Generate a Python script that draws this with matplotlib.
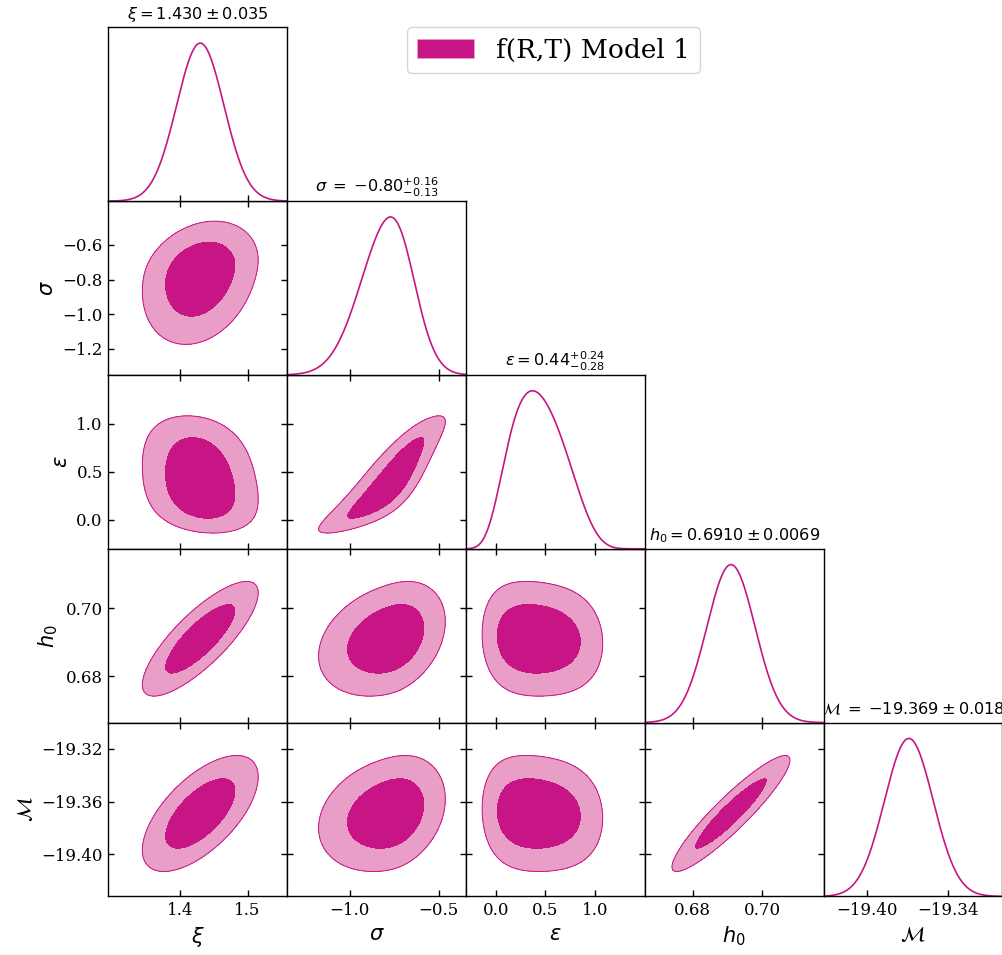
import numpy as np
import matplotlib
matplotlib.use("Agg")
import matplotlib.pyplot as plt
from matplotlib.patches import Patch
from matplotlib.ticker import FuncFormatter, FixedLocator

plt.rcParams["font.family"] = "serif"

MINUS = "\u2212"

# Parameters of the f(R,T) Model 1 posterior
labels = [r"$\xi$", r"$\sigma$", r"$\varepsilon$", r"$h_0$", r"$\mathcal{M}$"]
titles = [
    r"$\xi = 1.430 \pm 0.035$",
    r"$\sigma \;=\; {-}0.80^{+0.16}_{-0.13}$",
    r"$\varepsilon = 0.44^{+0.24}_{-0.28}$",
    r"$h_0 = 0.6910 \pm 0.0069$",
    r"$\mathcal{M} \;=\; {-}19.369 \pm 0.018$",
]
# peak position, lower / upper width and tail steepening of each marginal
modes = [1.430, -0.770, 0.370, 0.691, -19.369]
width_lo = [0.035, 0.165, 0.270, 0.0069, 0.018]
width_hi = [0.035, 0.125, 0.385, 0.0069, 0.018]
tail_cubic = [0.0, 0.0, 0.094, 0.0, 0.0]
# pairwise correlations
corr = [
    [1.00, 0.25, -0.22, 0.80, 0.63],
    [0.25, 1.00, 0.88, 0.30, 0.25],
    [-0.22, 0.88, 1.00, -0.08, -0.08],
    [0.80, 0.30, -0.08, 1.00, 0.92],
    [0.63, 0.25, -0.08, 0.92, 1.00],
]
limits = [(1.294, 1.5585), (-1.350, -0.347), (-0.303, 1.505),
          (0.6663, 0.7175), (-19.432, -19.300)]
xticks = [[1.4, 1.5], [-1.0, -0.5], [0.0, 0.5, 1.0], [0.68, 0.70], [-19.40, -19.34]]
yticks = [[], [-1.2, -1.0, -0.8, -0.6], [0.0, 0.5, 1.0], [0.68, 0.70],
          [-19.40, -19.36, -19.32]]
decimals = [1, 1, 1, 2, 2]
legend_label = "f(R,T) Model 1"

dark = "#C71585"
light = "#E99EC8"
levels_chi2 = [2.279, 5.991]   # 68% and 95% regions

n = len(labels)


def gaussianized(x, k):
    """Map a parameter value to a standard-normal-like coordinate,
    with a smooth change of width across the peak."""
    d = x - modes[k]
    s_mid = 0.5 * (width_lo[k] + width_hi[k])
    s_half = 0.5 * (width_hi[k] - width_lo[k])
    s = s_mid + s_half * np.tanh(d / s_mid)
    u = d / s
    return u + tail_cubic[k] * u ** 3


def formatter(dec):
    return FuncFormatter(lambda v, _: f"{v:.{dec}f}".replace("-", MINUS))


fig = plt.figure(figsize=(10.03, 9.55), dpi=100)
gs = fig.add_gridspec(n, n, left=0.108, right=0.9993, top=0.9714,
                      bottom=0.0613, hspace=0, wspace=0)

tick_kw = dict(direction="in", length=4, width=1.0, labelsize=12, pad=4)

for i in range(n):
    for j in range(i + 1):
        ax = fig.add_subplot(gs[i, j])
        for sp in ax.spines.values():
            sp.set_linewidth(1.0)
        ax.set_xlim(*limits[j])
        ax.xaxis.set_major_locator(FixedLocator(xticks[j]))
        ax.xaxis.set_major_formatter(formatter(decimals[j]))
        if i == j:
            ax.set_zorder(n - i)
            x = np.linspace(*limits[j], 600)
            z = gaussianized(x, j)
            ax.plot(x, np.exp(-0.5 * z ** 2), color=dark, lw=1.2)
            ax.set_ylim(0, 1.1)
            ax.set_yticks([])
            ax.tick_params(axis="x", bottom=True, top=False, **tick_kw)
            ax.set_title(titles[j], fontsize=11.6, pad=6)
        else:
            ax.set_ylim(*limits[i])
            ax.yaxis.set_major_locator(FixedLocator(yticks[i]))
            ax.yaxis.set_major_formatter(formatter(decimals[i]))
            xs = np.linspace(*limits[j], 400)
            ys = np.linspace(*limits[i], 400)
            X, Y = np.meshgrid(xs, ys)
            zx = gaussianized(X, j)
            zy = gaussianized(Y, i)
            r = corr[i][j]
            Q = (zx ** 2 - 2 * r * zx * zy + zy ** 2) / (1 - r ** 2)
            ax.contourf(X, Y, Q, levels=[-1, levels_chi2[0], levels_chi2[1]],
                        colors=[dark, light])
            ax.contour(X, Y, Q, levels=[levels_chi2[1]], colors=[dark],
                       linewidths=0.7)
            ax.tick_params(axis="both", bottom=True, top=True, left=True,
                           right=True, **tick_kw)
        if i == n - 1:
            ax.set_xlabel(labels[j], fontsize=15)
        else:
            ax.tick_params(axis="x", labelbottom=False)
        if j == 0 and i > 0:
            ax.set_ylabel(labels[i], fontsize=15)
        else:
            ax.tick_params(axis="y", labelleft=False)

leg = fig.legend(handles=[Patch(facecolor=dark, edgecolor=light, lw=0.5)],
                 labels=[legend_label], loc="upper left",
                 bbox_to_anchor=(406.7 / 1003, 1 - 27.3 / 955),
                 borderaxespad=0, fontsize=19, handlelength=2.15,
                 handleheight=0.76, handletextpad=0.83, framealpha=0.8,
                 edgecolor="0.8")
leg.set_zorder(20)

fig.savefig("out.png", dpi=100)
